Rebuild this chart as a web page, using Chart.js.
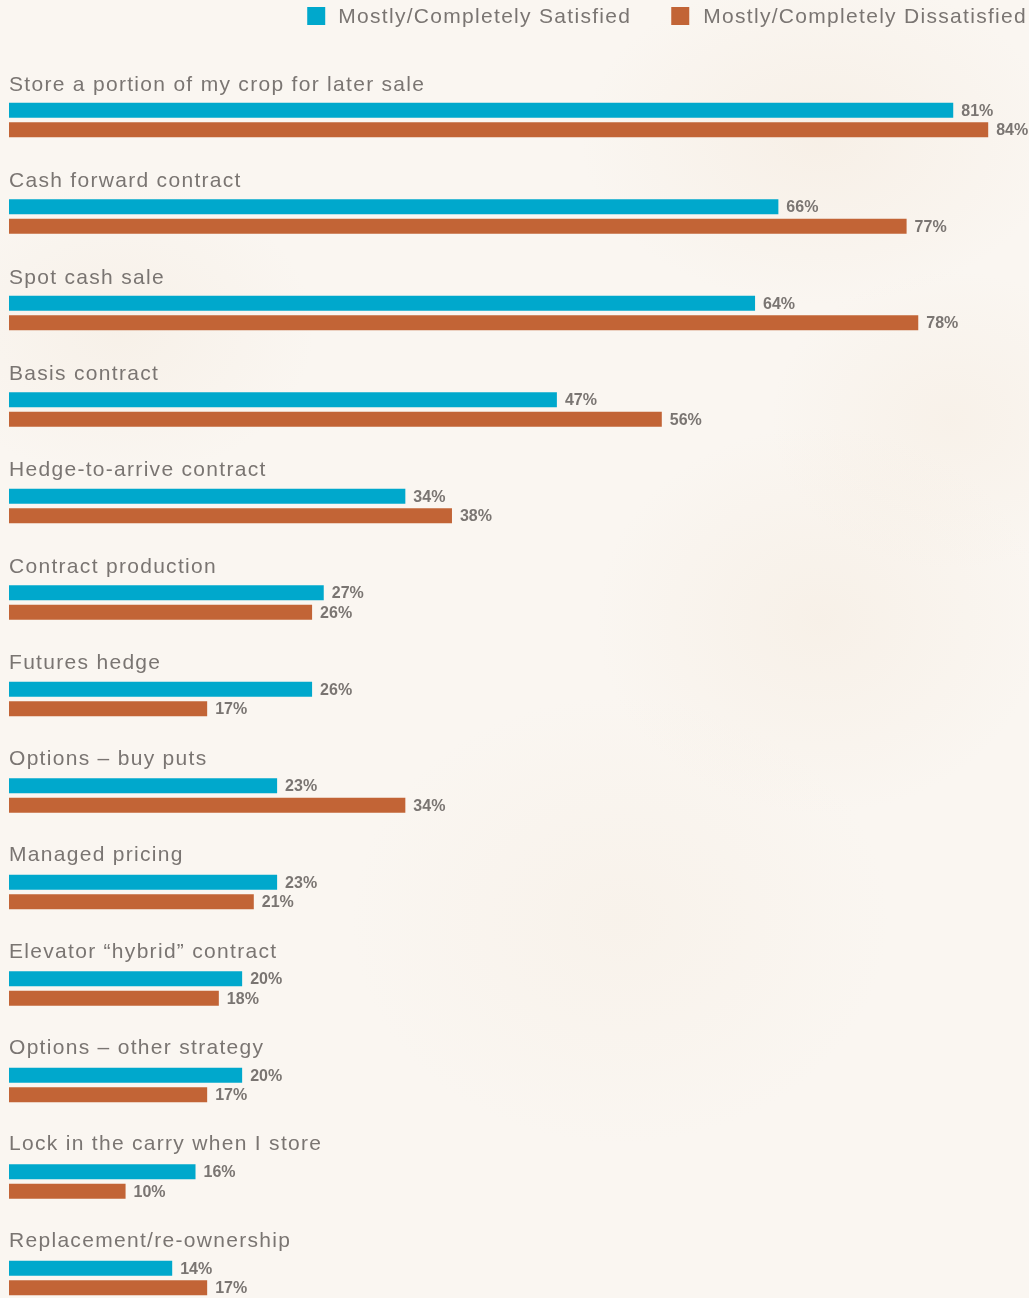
<!DOCTYPE html>
<html>
<head>
<meta charset="utf-8">
<script src="https://cdn.jsdelivr.net/npm/chart.js@4.4.1/dist/chart.umd.min.js"></script>
<style>
  html, body { margin: 0; padding: 0; }
  body {
    width: 1029px; height: 1298px; overflow: hidden;
    background-color: #faf6f1;
    background-image:
      radial-gradient(ellipse 320px 220px at 820px 140px, rgba(235, 214, 190, 0.20), rgba(235, 214, 190, 0) 75%),
      radial-gradient(ellipse 260px 200px at 120px 330px, rgba(232, 212, 188, 0.16), rgba(232, 212, 188, 0) 75%),
      radial-gradient(ellipse 300px 260px at 820px 620px, rgba(236, 218, 196, 0.20), rgba(236, 218, 196, 0) 75%),
      radial-gradient(ellipse 360px 300px at 620px 920px, rgba(238, 222, 202, 0.16), rgba(238, 222, 202, 0) 75%),
      radial-gradient(ellipse 240px 200px at 950px 420px, rgba(236, 216, 192, 0.16), rgba(236, 216, 192, 0) 75%);
  }
  canvas { display: block; }
</style>
</head>
<body>
<canvas id="chart" width="1029" height="1298"></canvas>
<script>
var categories = [
  'Store a portion of my crop for later sale',
  'Cash forward contract',
  'Spot cash sale',
  'Basis contract',
  'Hedge-to-arrive contract',
  'Contract production',
  'Futures hedge',
  'Options \u2013 buy puts',
  'Managed pricing',
  'Elevator \u201Chybrid\u201D contract',
  'Options \u2013 other strategy',
  'Lock in the carry when I store',
  'Replacement/re-ownership'
];
var seriesNames = ['Mostly/Completely Satisfied', 'Mostly/Completely Dissatisfied'];
var satisfied    = [81, 66, 64, 47, 34, 27, 26, 23, 23, 20, 20, 16, 14];
var dissatisfied = [84, 77, 78, 56, 38, 26, 17, 34, 21, 18, 17, 10, 17];
var colors = ['#00a8cc', '#c26436'];

var textColor = '#7a7572';
var labelFont = '21px "Liberation Sans", Arial, sans-serif';

// draws legend, category titles and value labels
var labelPlugin = {
  id: 'labelPlugin',
  afterDatasetsDraw: function(chart) {
    var ctx = chart.ctx;
    var area = chart.chartArea;
    var yScale = chart.scales.y;
    ctx.save();

    // legend, anchored to the right edge
    ctx.font = labelFont;
    ctx.letterSpacing = '1.3px';
    ctx.textBaseline = 'alphabetic';
    ctx.textAlign = 'left';
    var w1 = ctx.measureText(seriesNames[0]).width;
    var w2 = ctx.measureText(seriesNames[1]).width;
    var t2 = 1027 - w2;
    var s2 = t2 - 32;
    var t1 = s2 - 40 - w1;
    var s1 = t1 - 31;
    ctx.fillStyle = colors[0];
    ctx.fillRect(s1, 7, 18, 18);
    ctx.fillStyle = colors[1];
    ctx.fillRect(s2, 7, 18, 18);
    ctx.fillStyle = textColor;
    ctx.fillText(seriesNames[0], t1, 23);
    ctx.fillText(seriesNames[1], t2, 23);

    // category titles above each pair of bars
    for (var i = 0; i < categories.length; i++) {
      var cy = yScale.getPixelForValue(i);
      ctx.fillText(categories[i], area.left, cy - 29 - i * 0.2);
    }

    // value labels
    ctx.font = 'bold 16px "Liberation Sans", Arial, sans-serif';
    ctx.letterSpacing = '0px';
    chart.data.datasets.forEach(function(ds, di) {
      var meta = chart.getDatasetMeta(di);
      meta.data.forEach(function(bar, j) {
        ctx.fillText(ds.data[j] + '%', bar.x + 8, bar.y + 5.5);
      });
    });
    ctx.restore();
  }
};

var ctx = document.getElementById('chart').getContext('2d');
var chart = new Chart(ctx, {
  type: 'bar',
  data: {
    labels: categories,
    datasets: [
      {
        label: seriesNames[0],
        data: satisfied,
        backgroundColor: colors[0],
        categoryPercentage: 0.404,
        barPercentage: 0.77,
        clip: false
      },
      {
        label: seriesNames[1],
        data: dissatisfied,
        backgroundColor: colors[1],
        categoryPercentage: 0.404,
        barPercentage: 0.77,
        clip: false
      }
    ]
  },
  options: {
    indexAxis: 'y',
    responsive: false,
    animation: false,
    layout: {
      padding: { left: 9, right: 0, top: 120, bottom: 20 }
    },
    scales: {
      x: { display: false, min: 0, max: 87.5 },
      y: { display: false, offset: false }
    },
    plugins: {
      legend: { display: false },
      tooltip: { enabled: false }
    }
  },
  plugins: [labelPlugin]
});
</script>
</body>
</html>
